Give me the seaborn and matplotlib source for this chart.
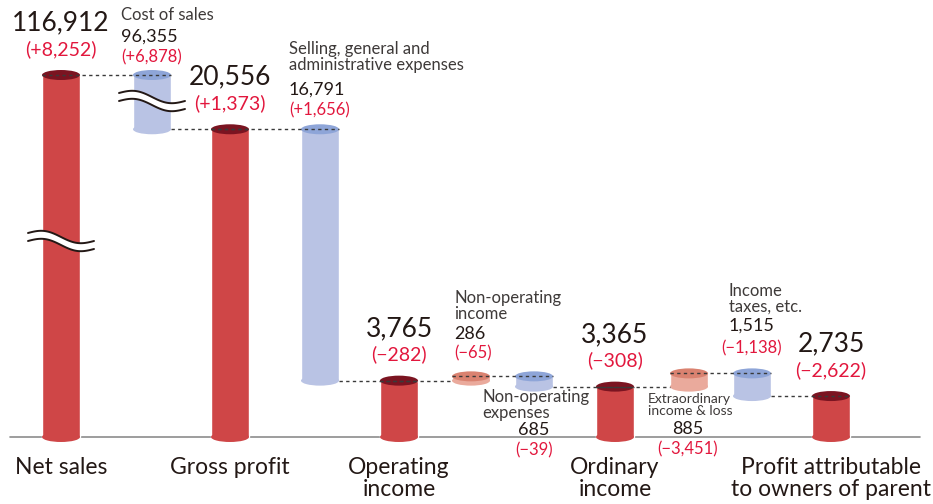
import numpy as np
import matplotlib
matplotlib.use("Agg")
import matplotlib.pyplot as plt
from matplotlib.patches import Ellipse, Rectangle, Polygon
import seaborn as sns

# ---- data ----
steps = ["Net sales", "Cost of sales", "Gross profit", "SG&A", "Operating income",
         "Non-operating income", "Non-operating expenses", "Ordinary income",
         "Extraordinary income & loss", "Income taxes, etc.", "Profit attributable"]
kinds = ["total", "minus", "total", "minus", "total", "plus", "minus", "total",
         "plus", "minus", "total"]
amounts = [116912, 96355, 20556, 16791, 3765, 286, 685, 3365, 885, 1515, 2735]
changes = ["(+8,252)", "(+6,878)", "(+1,373)", "(+1,656)", "(\u2212282)", "(\u221265)",
           "(\u221239)", "(\u2212308)", "(\u22123,451)", "(\u22121,138)", "(\u22122,622)"]
cat_labels = ["Net sales", "Gross profit", "Operating\nincome", "Ordinary\nincome",
              "Profit attributable\nto owners of parent"]

# ---- layout ----
W, H = 933, 504
PX = 66.8          # data units per pixel
BASE = 437         # baseline pixel row
BREAK, K = 21500, 0.0281
xpos = [61, 152, 230, 320, 399, 471, 534, 615, 689, 752, 831]
BW = 38
EH = 10 * PX

RED, RED_TOP = "#cf4647", "#7b1421"
BLUE, BLUE_TOP = "#b9c3e4", "#8ea5d8"
PINK, PINK_TOP = "#eaaa9c", "#da8270"
TXT, LBL, TRED = "#231815", "#3e3a39", "#e2173d"

sns.set_theme(style="white")
plt.rcParams["font.family"] = ["Lato", "DejaVu Sans"]


def squeeze(v):
    # broken axis: compress everything above the break
    return v if v <= BREAK else BREAK + (v - BREAK) * K


# running levels
spans = []
level = 0
for kind, amt in zip(kinds, amounts):
    if kind == "total":
        lo, hi, level = 0, amt, amt
    elif kind == "minus":
        lo, hi = level - amt, level
        level = lo
    else:
        lo, hi = level, level + amt
        level = hi
    spans.append((lo, hi))

fig = plt.figure(figsize=(W / 100, H / 100), dpi=100)
ax = fig.add_axes([0, 0, 1, 1])
ax.set_xlim(0, W)
ax.set_ylim(-(H - BASE) * PX, BASE * PX)
ax.axis("off")


def py(p):
    # pixel row -> data y
    return (BASE - p) * PX


ax.plot([10, 920], [0, 0], color="#8c8c8c", lw=1.2, zorder=1)

colors = {"total": (RED, RED_TOP), "minus": (BLUE, BLUE_TOP), "plus": (PINK, PINK_TOP)}
for x, kind, (lo, hi) in zip(xpos, kinds, spans):
    body, top = colors[kind]
    ylo, yhi = squeeze(lo), squeeze(hi)
    ax.bar(x, yhi - ylo, bottom=ylo, width=BW, color=body, zorder=2)
    ax.add_patch(Ellipse((x, ylo), BW, EH, fc=body, ec="none", zorder=2))
    ax.add_patch(Ellipse((x, yhi), BW, EH, fc=top, ec="none", zorder=3))

# dashed connectors
for i in range(len(spans) - 1):
    lvl = spans[i][1] if kinds[i] != "minus" else spans[i][0]
    a_top = kinds[i] != "minus"
    b_top = kinds[i + 1] != "plus"
    x0 = xpos[i] - BW / 2 if a_top else xpos[i] + BW / 2
    x1 = xpos[i + 1] + BW / 2 if b_top else xpos[i + 1] - BW / 2
    ax.plot([x0, x1], [squeeze(lvl)] * 2, color="#3a3a3a", lw=1.0,
            ls=(0, (2.4, 2.4)), zorder=5)


# break marks
def break_mark(xc, yc):
    t = np.linspace(0, 1, 80)
    xs = xc - 33 + 66 * t
    dy = 8 * t - 4 * np.sin(2 * np.pi * t) - 4
    up = yc - (dy - 4) * PX
    dn = yc - (dy + 4) * PX
    ax.add_patch(Polygon(np.column_stack([np.r_[xs, xs[::-1]], np.r_[up, dn[::-1]]]),
                         fc="white", ec="none", zorder=6))
    ax.plot(xs, up, color="#231815", lw=1.4, zorder=7)
    ax.plot(xs, dn, color="#231815", lw=1.4, zorder=7)


break_mark(xpos[0], py(241))
break_mark(xpos[1], py(101))


# texts
def ptext(x, p, s, **kw):
    ax.text(x, py(p), s, va="center", **kw)


totals = [i for i, k in enumerate(kinds) if k == "total"]
for i, lab in zip(totals, cat_labels):
    top_px = BASE - squeeze(amounts[i]) / PX
    ptext(xpos[i], top_px - 52, f"{amounts[i]:,}", ha="center", fontsize=19, color=TXT)
    ptext(xpos[i], top_px - 26, changes[i], ha="center", fontsize=14, color=TRED)
    ax.text(xpos[i], py(457), lab, ha="center", va="top", fontsize=16.5,
            color=TXT, linespacing=1.05)

items = {
    1: ("Cost of sales", 121, 15, 37, 57, "left"),
    3: ("Selling, general and\nadministrative expenses", 289, 57, 90, 110, "left"),
    5: ("Non-operating\nincome", 454, 306, 334, 353, "left"),
    6: ("Non-operating\nexpenses", 482, 405, 430, 450, "right"),
    8: ("Extraordinary\nincome & loss", 648, 405, 429, 449, "center"),
    9: ("Income\ntaxes, etc.", 729, 299, 326, 348, "left"),
}
for i, (lab, x, p_lab, p_val, p_chg, al) in items.items():
    small = i == 8
    ptext(x, p_lab, lab, ha="left", fontsize=10 if small else 12, color=LBL,
          linespacing=1.0)
    if al == "left":
        xv, xc = x, x
    elif al == "right":
        xv, xc = 549, 553
    else:
        xv, xc = 688, 688
    ha = {"left": "left", "right": "right", "center": "center"}[al]
    ptext(xv, p_val, f"{amounts[i]:,}", ha=ha, fontsize=13, color=TXT)
    ptext(xc if al != "left" or i != 9 else 721, p_chg, changes[i], ha=ha,
          fontsize=12, color=TRED)

fig.savefig("out.png", dpi=100)
